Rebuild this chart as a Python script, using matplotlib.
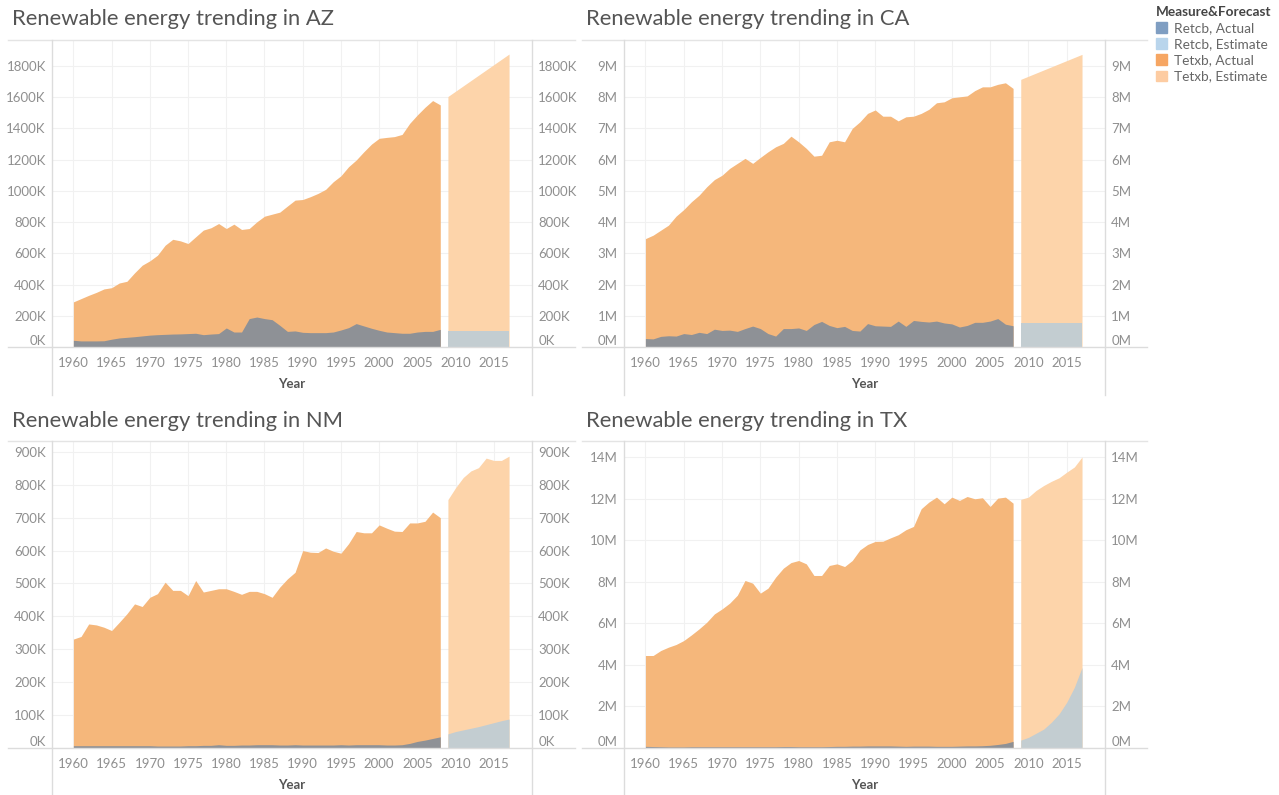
import matplotlib.pyplot as plt
from matplotlib.lines import Line2D
from matplotlib.patches import Patch

plt.rcParams['font.family'] = ['Lato', 'DejaVu Sans']

W, H = 1279, 795

years_act = list(range(1960, 2009))
years_est = list(range(2009, 2018))
year_ticks = list(range(1960, 2016, 5))

# AZ, thousands
az_tetxb_act = [289, 310, 331, 350, 372, 380, 410, 421, 475, 524,
                552, 588, 652, 690, 680, 663, 706, 749, 764, 791,
                759, 787, 753, 759, 802, 838, 851, 864, 903, 941,
                945, 963, 984, 1010, 1059, 1097, 1155, 1198, 1251, 1300,
                1337, 1343, 1348, 1362, 1433, 1487, 1536, 1579, 1551]
az_tetxb_est = [1605, 1639, 1673, 1707, 1741, 1775, 1809, 1843, 1877]
az_retcb_act = [43, 39, 39, 39, 40, 50, 58, 62, 66, 71,
                76, 79, 81, 83, 84, 86, 88, 79, 83, 86,
                122, 96, 96, 182, 192, 182, 175, 139, 100, 103,
                94, 92, 92, 92, 96, 109, 124, 150, 135, 120,
                107, 96, 92, 88, 88, 96, 100, 100, 113]
az_retcb_est = [103, 103, 103, 103, 103, 103, 103, 103, 103]

# CA, millions
ca_tetxb_act = [3.47, 3.58, 3.74, 3.90, 4.19, 4.40, 4.65, 4.86, 5.13, 5.36,
                5.50, 5.72, 5.88, 6.04, 5.88, 6.07, 6.25, 6.41, 6.52, 6.75,
                6.57, 6.36, 6.11, 6.14, 6.57, 6.62, 6.57, 7.00, 7.21, 7.48,
                7.59, 7.39, 7.39, 7.24, 7.37, 7.39, 7.48, 7.61, 7.82, 7.85,
                7.98, 8.01, 8.04, 8.21, 8.33, 8.33, 8.41, 8.46, 8.28]
ca_tetxb_est = [8.57, 8.67, 8.77, 8.87, 8.97, 9.07, 9.17, 9.27, 9.37]
ca_retcb_act = [0.27, 0.26, 0.34, 0.36, 0.35, 0.43, 0.40, 0.47, 0.43, 0.57,
                0.53, 0.54, 0.50, 0.59, 0.67, 0.59, 0.43, 0.35, 0.59, 0.59,
                0.61, 0.53, 0.72, 0.82, 0.69, 0.62, 0.66, 0.53, 0.51, 0.75,
                0.68, 0.67, 0.66, 0.83, 0.66, 0.85, 0.82, 0.80, 0.83, 0.77,
                0.74, 0.64, 0.69, 0.79, 0.79, 0.83, 0.91, 0.73, 0.68]
ca_retcb_est = [0.77, 0.77, 0.77, 0.77, 0.77, 0.77, 0.77, 0.77, 0.77]

# NM, thousands
nm_tetxb_act = [331, 339, 377, 374, 367, 357, 382, 408, 438, 430,
                458, 469, 504, 479, 479, 463, 509, 474, 479, 484,
                484, 476, 467, 476, 476, 469, 458, 489, 514, 534,
                600, 595, 594, 608, 598, 592, 621, 658, 654, 654,
                678, 668, 659, 658, 684, 684, 689, 717, 700]
nm_tetxb_est = [755, 791, 822, 842, 852, 881, 874, 874, 887]
nm_retcb_act = [7, 7, 7, 7, 7, 7, 7, 7, 7, 7,
                7, 6, 6, 6, 6, 7, 7, 8, 8, 10,
                8, 8, 9, 9, 10, 10, 10, 9, 9, 10,
                9, 9, 9, 9, 9, 10, 9, 10, 10, 10,
                10, 9, 9, 10, 14, 20, 24, 29, 34]
nm_retcb_est = [43, 50, 55, 60, 65, 71, 77, 83, 88]

# TX, millions
tx_tetxb_act = [4.45, 4.45, 4.69, 4.85, 4.98, 5.17, 5.44, 5.73, 6.05, 6.45,
                6.69, 6.97, 7.35, 8.06, 7.93, 7.45, 7.69, 8.22, 8.65, 8.92,
                9.02, 8.86, 8.30, 8.30, 8.78, 8.86, 8.73, 9.02, 9.53, 9.79,
                9.94, 9.95, 10.11, 10.26, 10.50, 10.66, 11.51, 11.83, 12.07, 11.75,
                12.07, 11.91, 12.10, 11.99, 12.04, 11.62, 12.02, 12.07, 11.78]
tx_tetxb_est = [11.96, 12.07, 12.39, 12.63, 12.83, 13.00, 13.27, 13.52, 14.00]
tx_retcb_act = [0.08, 0.07, 0.06, 0.05, 0.05, 0.05, 0.06, 0.06, 0.06, 0.06,
                0.06, 0.06, 0.06, 0.06, 0.06, 0.06, 0.06, 0.06, 0.07, 0.07,
                0.06, 0.06, 0.06, 0.06, 0.07, 0.08, 0.08, 0.09, 0.09, 0.10,
                0.10, 0.10, 0.10, 0.09, 0.08, 0.09, 0.09, 0.09, 0.08, 0.08,
                0.08, 0.09, 0.10, 0.10, 0.11, 0.13, 0.17, 0.22, 0.32]
tx_retcb_est = [0.38, 0.51, 0.71, 0.91, 1.24, 1.64, 2.20, 2.92, 3.88]

panels = [
    ('AZ', az_tetxb_act, az_tetxb_est, az_retcb_act, az_retcb_est, list(range(0, 1801, 200)), 'K', 1967),
    ('CA', ca_tetxb_act, ca_tetxb_est, ca_retcb_act, ca_retcb_est, list(range(0, 10)), 'M', 9.83),
    ('NM', nm_tetxb_act, nm_tetxb_est, nm_retcb_act, nm_retcb_est, list(range(0, 901, 100)), 'K', 933),
    ('TX', tx_tetxb_act, tx_tetxb_est, tx_retcb_act, tx_retcb_est, list(range(0, 15, 2)), 'M', 14.77),
]

# pixel boxes: plot left, right, top line, baseline, panel left, panel right, panel bottom
boxes = [
    (52, 532, 40, 347, 8, 575, 395),
    (624, 1105, 40, 347, 582, 1147, 395),
    (52, 532, 441, 748, 8, 575, 795),
    (624, 1105, 441, 748, 582, 1147, 795),
]

c_tet_act = '#f5b77b'
c_tet_est = '#fdd4aa'
c_ret_act = '#8e9196'
c_ret_est = '#c3cdd1'
tick_col = '#8f8f8f'
line_col = '#dcdcdc'

fig = plt.figure(figsize=(W / 100, H / 100), dpi=100)
fig.patch.set_facecolor('white')


def fx(px):
    return px / W


def fy(py):
    return 1 - py / H


for (state, tet_a, tet_e, ret_a, ret_e, ticks, unit, ytop), box in zip(panels, boxes):
    l, r, t, b, pl, pr, pb = box
    ax = fig.add_axes([fx(l), fy(b), (r - l) / W, (b - t) / H])
    ax.fill_between(years_act, 0, tet_a, color=c_tet_act, lw=0)
    ax.fill_between(years_est, 0, tet_e, color=c_tet_est, lw=0)
    ax.fill_between(years_act, 0, ret_a, color=c_ret_act, lw=0)
    ax.fill_between(years_est, 0, ret_e, color=c_ret_est, lw=0)
    ax.set_xlim(1957.2, 2020)
    ax.set_ylim(0, ytop)
    ax.set_xticks(year_ticks)
    ax.set_xticklabels([str(y) for y in year_ticks])
    ax.set_yticks(ticks)
    ax.set_yticklabels([f'{v}{unit}' for v in ticks])
    ax.tick_params(axis='both', length=0, labelsize=9.5, labelcolor=tick_col)
    ax.tick_params(axis='y', labelleft=True, labelright=True, pad=4.5)
    ax.tick_params(axis='x', pad=7)
    for tk in ax.yaxis.get_major_ticks()[:1]:
        tk.label1.set_verticalalignment('bottom')
        tk.label2.set_verticalalignment('bottom')
    ax.grid(True, color='#f1f1f1', lw=0.8)
    ax.set_axisbelow(True)
    for s in ax.spines.values():
        s.set_visible(False)
    ax.set_xlabel('Year', fontsize=9.5, fontweight='bold', color='#555555', labelpad=7)

    fig.text(fx(pl + 4), fy((t - 40) + 19 if t < 100 else t - 20), f'Renewable energy trending in {state}',
             fontsize=15.8, color='#555555', va='center', ha='left')
    fig.add_artist(Line2D([fx(pl), fx(pr)], [fy(t), fy(t)], color='#e4e4e4', lw=1))
    fig.add_artist(Line2D([fx(pl), fx(pr)], [fy(b), fy(b)], color=line_col, lw=1))
    fig.add_artist(Line2D([fx(l), fx(l)], [fy(t), fy(pb)], color=line_col, lw=1))
    fig.add_artist(Line2D([fx(r), fx(r)], [fy(t), fy(pb)], color=line_col, lw=1))

handles = [Patch(color='#7f9ec2'), Patch(color='#b9d5ec'),
           Patch(color='#f6a663'), Patch(color='#fdcca2')]
labels = ['Retcb, Actual', 'Retcb, Estimate', 'Tetxb, Actual', 'Tetxb, Estimate']
leg = fig.legend(handles, labels, title='Measure&Forecast', loc='upper left',
                 bbox_to_anchor=(fx(1148), fy(-2)), frameon=False, fontsize=9.8,
                 title_fontsize=9.8, handlelength=0.8, handleheight=0.8,
                 handletextpad=0.5, labelspacing=0.3, alignment='left',
                 borderaxespad=0.2)
leg.get_title().set_fontweight('bold')
leg.get_title().set_color('#444444')
for txt in leg.get_texts():
    txt.set_color('#666666')

fig.savefig('out.png', dpi=100)
